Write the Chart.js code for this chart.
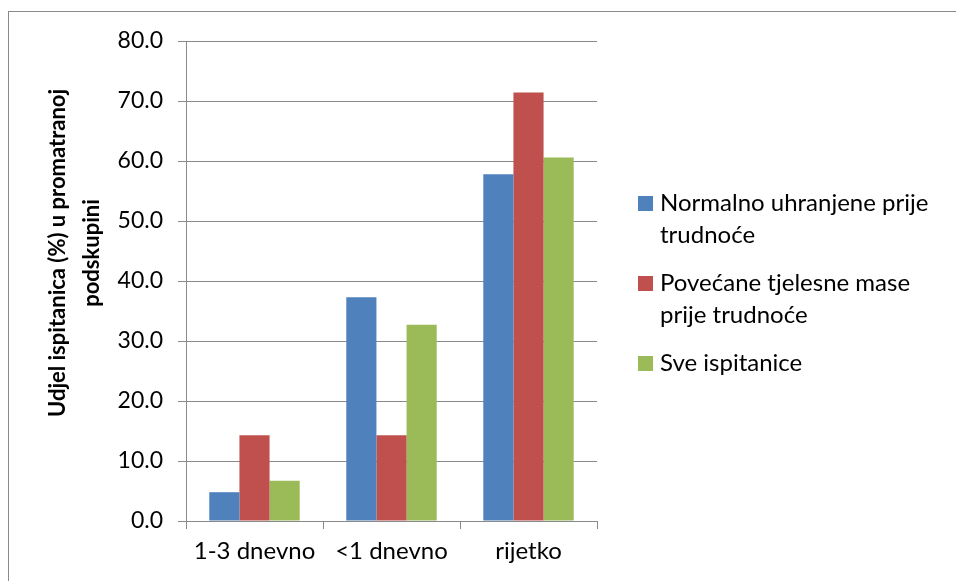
<!DOCTYPE html>
<html>
<head>
<meta charset="utf-8">
<script src="https://cdn.jsdelivr.net/npm/chart.js@4.4.1/dist/chart.umd.min.js"></script>
<style>
  html, body { margin: 0; padding: 0; background: #fff; }
  #wrap { position: relative; width: 956px; height: 581px; overflow: hidden; }
  #frame { position: absolute; left: 8px; top: 11px; width: 960px; height: 580px;
           border-top: 1px solid #8a8a8a; border-left: 1px solid #8a8a8a; }
  canvas { position: absolute; left: 0; top: 0; }
</style>
</head>
<body>
<div id="wrap">
  <div id="frame"></div>
  <canvas id="chart" width="956" height="581"></canvas>
</div>
<script>
// podaci
const categories = ['1-3 dnevno', '<1 dnevno', 'rijetko'];
const normalno = [4.8, 37.3, 57.8];
const povecane = [14.3, 14.3, 71.4];
const sve = [6.7, 32.7, 60.6];
const yTicks = [0, 10, 20, 30, 40, 50, 60, 70, 80];

const seriesNames = ['Normalno uhranjene prije trudnoće', 'Povećane tjelesne mase prije trudnoće', 'Sve ispitanice'];
const legendLines = [['Normalno uhranjene prije', 'trudnoće'], ['Povećane tjelesne mase', 'prije trudnoće'], ['Sve ispitanice']];
const yTitle = ['Udjel ispitanica (%) u promatranoj', 'podskupini'];

const FONT = 'Lato, "Open Sans", sans-serif';
const gridColor = '#8a8a8a';

// legenda i naslov osi crtamo sami (prelamanje teksta)
const customDraw = {
    id: 'customDraw',
    afterDraw(chart) {
        const ctx = chart.ctx;
        ctx.save();

        // naslov y osi
        ctx.fillStyle = '#000';
        ctx.font = 'bold 22px ' + FONT;
        ctx.textAlign = 'center';
        ctx.textBaseline = 'middle';
        ctx.translate(75, 253);
        ctx.rotate(-Math.PI / 2);
        ctx.fillText(yTitle[0], 0, -17);
        ctx.fillText(yTitle[1], 0, 17);
        ctx.restore();

        // legenda
        ctx.save();
        ctx.font = '24px ' + FONT;
        ctx.textAlign = 'left';
        ctx.textBaseline = 'middle';
        let y = 203;
        chart.data.datasets.forEach((ds, i) => {
            ctx.fillStyle = ds.backgroundColor;
            ctx.fillRect(638, y - 7, 15, 15);
            ctx.fillStyle = '#000';
            legendLines[i].forEach((line, j) => {
                ctx.fillText(line, 660, y + j * 32);
            });
            y += legendLines[i].length * 32 + 16;
        });
        ctx.restore();
    }
};

new Chart(document.getElementById('chart'), {
    type: 'bar',
    data: {
        labels: categories,
        datasets: [
            { label: seriesNames[0], data: normalno, backgroundColor: '#4F81BD' },
            { label: seriesNames[1], data: povecane, backgroundColor: '#C0504D' },
            { label: seriesNames[2], data: sve, backgroundColor: '#9BBB59' }
        ]
    },
    options: {
        responsive: false,
        animation: false,
        devicePixelRatio: 1,
        layout: { padding: { left: 0, top: 41, right: 359, bottom: 0 } },
        datasets: {
            bar: { categoryPercentage: 0.66, barPercentage: 1.0, borderWidth: 0 }
        },
        scales: {
            x: {
                afterFit(scale) { scale.height = 60; },
                grid: {
                    offset: true,
                    drawOnChartArea: false,
                    drawTicks: true,
                    tickLength: 8,
                    color: gridColor
                },
                border: { display: true, color: gridColor, width: 1 },
                ticks: {
                    color: '#000',
                    padding: 8,
                    font: { family: FONT, size: 24 }
                }
            },
            y: {
                min: 0,
                max: 80,
                afterFit(scale) { scale.width = 186; },
                afterBuildTicks(scale) { scale.ticks = yTicks.map(v => ({ value: v })); },
                grid: {
                    color: gridColor,
                    drawTicks: true,
                    tickLength: 8
                },
                border: { display: true, color: gridColor, width: 1 },
                ticks: {
                    color: '#000',
                    padding: 15,
                    font: { family: FONT, size: 23 },
                    callback: v => v.toFixed(1)
                }
            }
        },
        plugins: {
            legend: { display: false },
            tooltip: { enabled: false }
        }
    },
    plugins: [customDraw]
});
</script>
</body>
</html>
